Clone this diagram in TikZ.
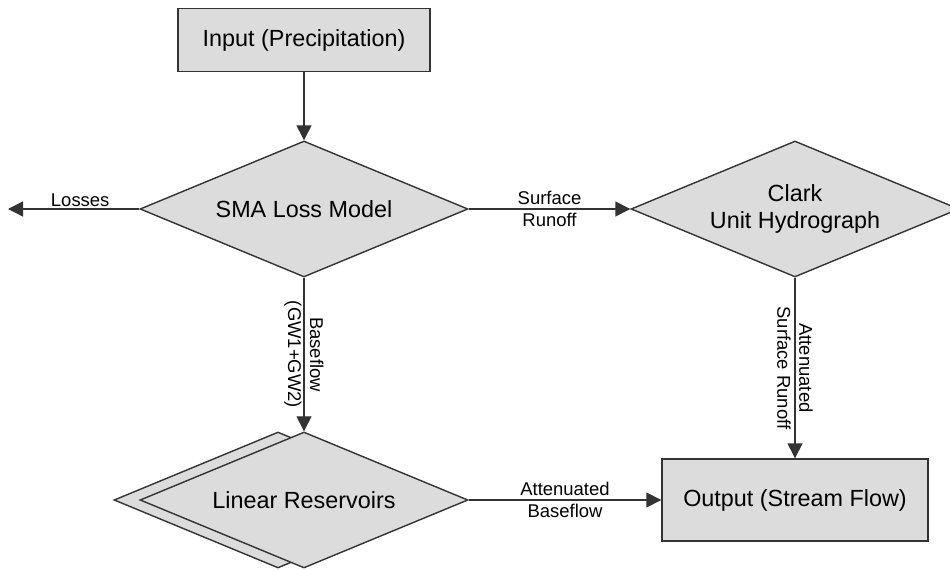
\documentclass[tikz,border=0pt]{standalone}
\usepackage{fontspec}
\setmainfont{Liberation Sans}
\usepackage{xcolor}
\usetikzlibrary{shapes.geometric, arrows.meta}

\definecolor{boxgray}{HTML}{DCDCDC}
\definecolor{linegray}{HTML}{333333}

\tikzset{
    block/.style={rectangle, draw=linegray, fill=boxgray, line width=0.8pt,
        font=\fontsize{13.3}{15.5}\selectfont, align=center},
    decision/.style={diamond, aspect=2.41, draw=linegray, fill=boxgray, line width=0.8pt,
        minimum width=6.56cm, minimum height=2.72cm, inner sep=0pt,
        font=\fontsize{13.3}{15.5}\selectfont, align=center},
    flowlabel/.style={font=\fontsize{10.5}{12.5}\selectfont, align=center, inner sep=1pt},
    flow/.style={draw=linegray, line width=0.8pt, -{Triangle[length=3mm, width=3mm]}},
}

\begin{document}
\begin{tikzpicture}
                \useasboundingbox (0, 0) rectangle (19, 11.4);

                \node[block, minimum width=5.04cm, minimum height=1.26cm] (input) at (6.08, 10.6) {Input (Precipitation)};
                \node[decision] (sma) at (6.08, 7.22) {SMA Loss Model};
                \node[decision] (clark) at (15.9, 7.22) {Clark\\Unit Hydrograph};
                \node[decision] (linshadow) at (5.56, 1.4) {};
                \node[decision] (lin) at (6.08, 1.4) {Linear Reservoirs};
                \node[block, minimum width=5.32cm, minimum height=1.64cm] (output) at (15.9, 1.4) {Output (Stream Flow)};
                \coordinate (loss) at (0.16, 7.22);

                \draw[flow] (input) -- (sma);
                \draw[flow] (sma) -- node[flowlabel, above, pos=0.45] {Losses} (loss);
                \draw[flow] (sma) -- node[flowlabel] {Surface\\Runoff} (clark);
                \draw[flow] (sma) -- node[flowlabel, rotate=-90] {Baseflow\\(GW1+GW2)} (lin);
                \draw[flow] (clark) -- node[flowlabel, rotate=-90] {Attenuated\\Surface Runoff} (output);
                \draw[flow] (lin) -- node[flowlabel] {Attenuated\\Baseflow} (output);
            \end{tikzpicture}
\end{document}
